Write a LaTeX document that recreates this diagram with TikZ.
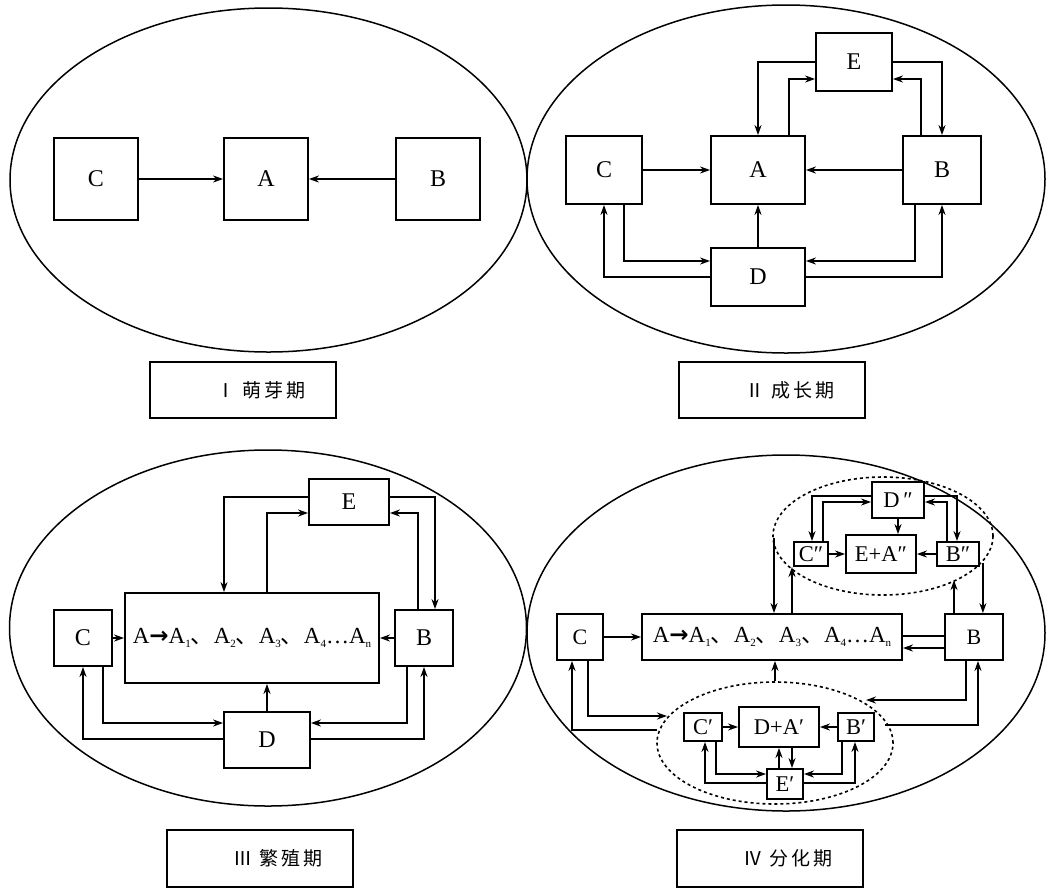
\documentclass[tikz,border=0pt]{standalone}
\usepackage{fontspec}
\setmainfont{Liberation Serif}
\newfontfamily\cjk{Noto Sans CJK SC}
\newfontfamily\dejavu{DejaVu Sans}
\usetikzlibrary{arrows.meta,calc,shapes.geometric}
\newcommand{\dun}{{\cjk 、}}
\newcommand{\barr}{{\dejavu\bfseries →}}
\newcommand{\sbs}[1]{\raisebox{-3.5pt}{\fontsize{11}{11}\selectfont #1}}
\newcommand{\achain}{{\fontsize{23}{25}\selectfont A\barr A\sbs{1}\dun A\sbs{2}\dun A\sbs{3}\dun A\sbs{4}…A\sbs{n}}}
\tikzset{
 box/.style={draw, line width=1.8pt, inner sep=0pt, font=\fontsize{24}{26}\selectfont},
 sbox/.style={box, font=\fontsize{22.5}{24}\selectfont},
 arr/.style={line width=1.8pt, -{Stealth[length=10pt,width=7pt]}},
 ln/.style={line width=1.8pt},
 bigell/.style={draw, ellipse, line width=1.5pt, inner sep=0pt},
 dotell/.style={draw, ellipse, line width=1.6pt, dash pattern=on 3pt off 3pt, inner sep=0pt},
 lbl/.style={draw, line width=1.5pt, minimum width=186pt, minimum height=56pt, inner sep=0pt, font=\cjk\fontsize{19}{21}\selectfont},
}
\newcommand{\lbltext}[2]{\hspace*{36pt}#1\hspace{0.35em}#2}
\begin{document}
\begin{tikzpicture}[x=1pt,y=-1pt]
\useasboundingbox (0,0) rectangle (1052,887);
% ---------- big ellipses ----------
\node[bigell, minimum width=517pt, minimum height=344pt] (E1) at (268.5,180) {};
\node[bigell, minimum width=518pt, minimum height=348pt] (E2) at (786,179) {};
\node[bigell, minimum width=517pt, minimum height=356pt] (E3) at (268,628) {};
\node[bigell, minimum width=518pt, minimum height=356pt] (E4) at (786,633) {};
% ---------- labels ----------
\node[lbl] (L1) at (243,390) {\lbltext{Ⅰ}{萌\hspace{3pt}芽\hspace{3pt}期}};
\node[lbl] (L2) at (772,390) {\lbltext{Ⅱ}{成\hspace{3pt}长\hspace{3pt}期}};
\node[lbl, minimum height=57pt] (L3) at (260,858.5) {\lbltext{Ⅲ}{繁\hspace{3pt}殖\hspace{3pt}期}};
\node[lbl, minimum height=57pt] (L4) at (770,858.5) {\lbltext{Ⅳ}{分\hspace{3pt}化\hspace{3pt}期}};
% ---------- panel I ----------
\node[box, minimum width=84pt, minimum height=82pt] (IC) at (96,179) {C};
\node[box, minimum width=84pt, minimum height=82pt] (IA) at (266,179) {A};
\node[box, minimum width=84pt, minimum height=82pt] (IB) at (438,179) {B};
\draw[arr] (IC.east) -- (IA.west);
\draw[arr] (IB.west) -- (IA.east);
% ---------- panel II ----------
\node[box, minimum width=76pt, minimum height=58pt] (IIE) at (854,62) {E};
\node[box, minimum width=76pt, minimum height=68pt] (IIC) at (604,170) {C};
\node[box, minimum width=94pt, minimum height=68pt] (IIA) at (758,170) {A};
\node[box, minimum width=78pt, minimum height=68pt] (IIB) at (942,170) {B};
\node[box, minimum width=94pt, minimum height=58pt] (IID) at (758,277) {D};
\draw[arr] (IIE.west) -| (IIA.north);
\draw[arr] ($(IIA.north)+(31,0)$) |- ($(IIE.west)+(0,17)$);
\draw[arr] (IIE.east) -| (IIB.north);
\draw[arr] ($(IIB.north)+(-21,0)$) |- ($(IIE.east)+(0,17)$);
\draw[arr] (IIC.east) -- (IIA.west);
\draw[arr] (IIB.west) -- (IIA.east);
\draw[arr] (IID.north) -- (IIA.south);
\draw[arr] ($(IIC.south)+(20,0)$) |- ($(IID.west)+(0,-16)$);
\draw[arr] (IID.west) -| (IIC.south);
\draw[arr] ($(IIB.south)+(-27,0)$) |- ($(IID.east)+(0,-16)$);
\draw[arr] (IID.east) -| (IIB.south);
% ---------- panel III ----------
\node[box, minimum width=80pt, minimum height=46pt] (IIIE) at (349,502) {E};
\node[box, minimum width=254pt, minimum height=90pt] (IIIA) at (252,638) {\achain};
\node[box, minimum width=58pt, minimum height=56pt] (IIIC) at (83,638) {C};
\node[box, minimum width=58pt, minimum height=56pt] (IIIB) at (424,638) {B};
\node[box, minimum width=86pt, minimum height=56pt] (IIID) at (267,740) {D};
\draw[arr] ($(IIIE.west)+(0,-5)$) -| ($(IIIA.north)+(-28,0)$);
\draw[arr] ($(IIIA.north)+(15,0)$) |- ($(IIIE.west)+(0,11)$);
\draw[arr] ($(IIIE.east)+(0,-5)$) -| ($(IIIB.north)+(11,0)$);
\draw[arr] ($(IIIB.north)+(-6,0)$) |- ($(IIIE.east)+(0,11)$);
\draw[arr] (IIIC.east) -- (IIIA.west);
\draw[arr] (IIIB.west) -- (IIIA.east);
\draw[arr] (IIID.north) -- (IIID.north |- IIIA.south);
\draw[arr] ($(IIIC.south)+(20,0)$) |- ($(IIID.west)+(0,-17)$);
\draw[arr] ($(IIID.west)+(0,-1)$) -| (IIIC.south);
\draw[arr] ($(IIIB.south)+(-17,0)$) |- ($(IIID.east)+(0,-17)$);
\draw[arr] ($(IIID.east)+(0,-1)$) -| (IIIB.south);
% ---------- panel IV ----------
\node[dotell, minimum width=220pt, minimum height=118pt] (UE) at (883,536) {};
\node[dotell, minimum width=236pt, minimum height=122pt] (LE) at (775,743) {};
\node[box, minimum width=46pt, minimum height=46pt, font=\fontsize{22}{24}\selectfont] (IVC) at (580,637) {C};
\node[box, minimum width=260pt, minimum height=46pt] (IVA) at (772,637) {\achain};
\node[box, minimum width=58pt, minimum height=46pt, font=\fontsize{22}{24}\selectfont] (IVB) at (974,637) {B};
\node[sbox, minimum width=52pt, minimum height=36pt] (D2) at (898,500) {D\,″};
\node[sbox, minimum width=34pt, minimum height=24pt] (C2) at (811,554) {C″};
\node[sbox, minimum width=70pt, minimum height=38pt] (EA2) at (881,554) {E+A″};
\node[sbox, minimum width=42pt, minimum height=24pt] (B2) at (958,554) {B″};
\node[sbox, minimum width=38pt, minimum height=28pt] (C1) at (703,727) {C′};
\node[sbox, minimum width=80pt, minimum height=40pt] (DA1) at (779,727) {D+A′};
\node[sbox, minimum width=36pt, minimum height=28pt] (B1) at (856,727) {B′};
\node[sbox, minimum width=36pt, minimum height=30pt] (Ep) at (785,784) {E′};
% upper group
\draw[arr] ($(D2.west)+(0,-4)$) -| ($(C2.north)+(1,0)$);
\draw[arr] ($(C2.north)+(12,0)$) |- ($(D2.west)+(0,2)$);
\draw[arr] ($(D2.east)+(0,-4)$) -| ($(B2.north)+(-1,0)$);
\draw[arr] ($(B2.north)+(-11,0)$) |- ($(D2.east)+(0,2)$);
\draw[arr] (D2.south) -- (D2.south |- EA2.north);
\draw[arr] (C2.east) -- (EA2.west);
\draw[arr] (B2.west) -- (EA2.east);
% links between upper group and main row
\coordinate (ul) at (774,538);
\draw[arr] (ul) -- (ul |- IVA.north);
\coordinate (au) at ($(IVA.north)+(20,0)$);
\draw[arr] (au) -- (au |- C2.south);
\coordinate (br) at ($(B2.south east)+(3,-4)$);
\draw[arr] (br) -- (br |- IVB.north);
\draw[arr] ($(IVB.north)+(-20,0)$) -- ++(0,-33);
% main row
\draw[arr] (IVC.east) -- (IVA.west);
\draw[ln] ($(IVB.west)+(0,-1)$) -- ($(IVA.east)+(0,-1)$);
\draw[arr] ($(IVB.west)+(0,11)$) -- ($(IVA.east)+(0,11)$);
\draw[arr] (LE.north) -- (LE.north |- IVA.south);
\coordinate (l1) at (667,716);
\coordinate (l2) at (657,730);
\coordinate (r1) at (866,700);
\coordinate (r2) at (885,725);
\draw[arr] ($(IVC.south)+(8,0)$) |- (l1);
\draw[arr] (l2) -| ($(IVC.south)+(-8,0)$);
\draw[arr] ($(IVB.south)+(-8,0)$) |- (r1);
\draw[arr] (r2) -| ($(IVB.south)+(4,0)$);
% lower group
\draw[arr] (C1.east) -- (C1.east -| DA1.west);
\draw[arr] (B1.west) -- (B1.west -| DA1.east);
\draw[arr] ($(C1.south)+(13,0)$) |- ($(Ep.west)+(0,-10)$);
\draw[arr] ($(Ep.west)+(0,-1)$) -| ($(C1.south)+(2,0)$);
\draw[arr] ($(B1.south)+(-14,0)$) |- ($(Ep.east)+(0,-10)$);
\draw[arr] ($(Ep.east)+(0,-1)$) -| ($(B1.south)+(-1,0)$);
\draw[arr] ($(Ep.north)+(-6,0)$) -- (DA1.south);
\draw[arr] ($(DA1.south)+(13,0)$) -- ($(Ep.north)+(7,0)$);
\end{tikzpicture}
\end{document}
